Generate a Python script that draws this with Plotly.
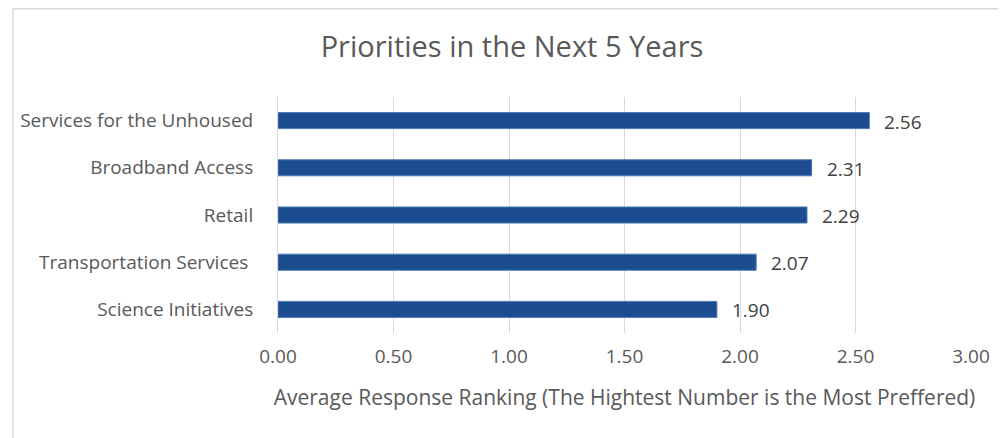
import plotly.graph_objects as go

categories = ["Science Initiatives", "Transportation Services ", "Retail", "Broadband Access", "Services for the Unhoused"]
values = [1.90, 2.07, 2.29, 2.31, 2.56]
x_ticks = [0, 0.5, 1.0, 1.5, 2.0, 2.5, 3.0]
x_tick_labels = ["0.00", "0.50", "1.00", "1.50", "2.00", "2.50", "3.00"]

FONT = "Open Sans"
TXT = "#595959"

# page has an 8px body margin; figure coords = screen coords - 8
L, R, T, B = 267, 43, 89, 113
PW = 1006 - L - R
PH = 438 - T - B

fig = go.Figure()
fig.add_trace(go.Bar(
    y=categories, x=values, orientation="h",
    marker=dict(color="#1B4C90", line=dict(color="#4F79B3", width=1)),
    width=0.34, hoverinfo="skip",
))

for c, v in zip(categories, values):
    fig.add_annotation(x=v, y=c, text=f"{v:.2f}", showarrow=False,
                       xanchor="left", xshift=13, yshift=-1,
                       font=dict(family=FONT, size=19, color="#404040"))

fig.update_layout(
    width=1006, height=438,
    margin=dict(l=L, r=R, t=T, b=B),
    paper_bgcolor="white", plot_bgcolor="white",
    showlegend=False,
    title=dict(text="Priorities in the Next 5 Years", x=(512 - 8) / 1006, xanchor="center",
               y=1 - 39 / 438, yanchor="middle",
               font=dict(family=FONT, size=29, color=TXT)),
    xaxis=dict(range=[0, 3.0], tickvals=x_ticks, ticktext=x_tick_labels,
               showgrid=True, gridcolor="#D9D9D9", gridwidth=1,
               zeroline=False, showline=False, ticks="",
               ticklabelstandoff=10,
               tickfont=dict(family=FONT, size=19, color=TXT),
               title=dict(text="Average Response Ranking (The Hightest Number is the Most Preffered)",
                          font=dict(family=FONT, size=21, color=TXT), standoff=22)),
    yaxis=dict(showgrid=False, showline=True, linecolor="#D9D9D9", linewidth=1,
               ticks="", ticklabelstandoff=20,
               tickfont=dict(family=FONT, size=19, color=TXT)),
    shapes=[
        dict(type="line", xref="paper", yref="paper",
             x0=(0.75 - L) / PW, x1=(1010 - L) / PW,
             y0=(PH + T - 0.75) / PH, y1=(PH + T - 0.75) / PH,
             line=dict(color="#D9D9D9", width=1.5)),
        dict(type="line", xref="paper", yref="paper",
             x0=(0.75 - L) / PW, x1=(0.75 - L) / PW,
             y0=(PH + T - 0.75) / PH, y1=-(B + 10) / PH,
             line=dict(color="#D9D9D9", width=1.5)),
    ],
)

fig.write_html("out.html")
